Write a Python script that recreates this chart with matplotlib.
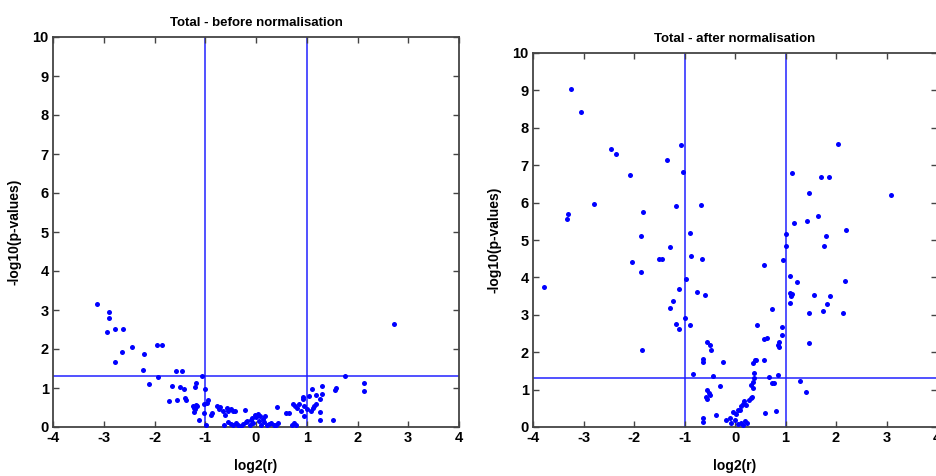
import numpy as np
import matplotlib
matplotlib.use("Agg")
import matplotlib.pyplot as plt

plt.rcParams["axes.unicode_minus"] = False

# before normalisation: log2(r), -log10(p)
before_x = [
    -3.13, -2.90, -2.90, -2.94, -2.78, -2.62, -2.77, -2.64, -2.44, -2.21, -2.22, -2.11,
    -1.96, -1.85, -1.94, -1.65, -1.72, -1.57, -1.46, -1.49, -1.41, -1.56, -1.40, -1.37,
    -1.21, -1.19, -1.07, -1.25, -1.23, -1.18, -1.22, -1.16, -1.20, -1.12, -1.03, -1.00,
    -1.03, -0.98, -0.95, -0.97, -0.89, -0.87, -0.77, -0.70, -0.72, -0.66, -0.62, -0.58,
    -0.55, -0.50, -0.45, -0.42, -0.64, -0.55, -0.50, -0.46, -0.40, -0.35, -0.30, -0.25,
    -0.22, -0.20, -0.17, -0.12, -0.10, -0.07, -0.05, -0.02, 0.00, 0.03, 0.05, 0.08,
    0.10, 0.13, 0.15, 0.18, 0.22, 0.25, 0.30, 0.35, 0.40, 0.44, 0.41, 0.60,
    0.65, 0.70, 0.74, 0.78, 0.72, 0.76, 0.80, 0.84, 0.88, 0.92, 0.93, 0.95,
    0.95, 1.00, 1.05, 1.08, 1.12, 1.15, 1.18, 1.10, 1.19, 1.27, 1.31, 1.31,
    1.27, 1.27, 1.52, 1.55, 1.57, 1.75, 2.13, 2.13, 2.71,
]
before_y = [
    3.15, 2.94, 2.79, 2.44, 2.51, 2.51, 1.66, 1.93, 2.04, 1.86, 1.46, 1.11,
    2.10, 2.10, 1.28, 1.04, 0.67, 1.44, 1.44, 1.02, 0.98, 0.70, 0.75, 0.70,
    1.03, 1.13, 1.32, 0.53, 0.39, 0.57, 0.48, 0.55, 0.45, 0.19, 0.36, 0.97,
    0.59, 0.06, 0.70, 0.62, 0.32, 0.35, 0.54, 0.52, 0.45, 0.42, 0.30, 0.48,
    0.40, 0.45, 0.42, 0.40, 0.05, 0.12, 0.08, 0.05, 0.10, 0.05, 0.03, 0.07,
    0.44, 0.12, 0.15, 0.05, 0.18, 0.22, 0.10, 0.30, 0.25, 0.33, 0.15, 0.28,
    0.05, 0.20, 0.12, 0.27, 0.05, 0.08, 0.10, 0.05, 0.05, 0.10, 0.52, 0.35,
    0.35, 0.05, 0.10, 0.05, 0.60, 0.55, 0.50, 0.60, 0.42, 0.78, 0.72, 0.55,
    0.28, 0.45, 0.80, 0.42, 0.48, 0.55, 0.58, 0.98, 0.83, 0.73, 1.04, 0.85,
    0.38, 0.19, 0.17, 0.96, 1.00, 1.31, 1.12, 0.92, 2.65,
]

# after normalisation
after_x = [
    -3.24, -3.05, -3.79, -3.30, -3.32, -2.80, -2.45, -2.36, -2.07, -2.03, -1.86, -1.82,
    -1.86, -1.84, -1.51, -1.45, -1.34, -1.28, -1.17, -1.06, -1.03, -0.89, -0.88, -0.68,
    -0.65, -0.98, -1.11, -1.22, -1.28, -1.16, -1.11, -1.00, -0.89, -0.76, -0.59, -0.56,
    -0.50, -0.48, -0.63, -0.63, -0.24, -0.84, -0.43, -0.30, -0.55, -0.52, -0.57, -0.50,
    -0.55, -0.63, -0.63, -0.37, -0.17, -0.10, -0.08, -0.03, 0.02, 0.05, 0.09, 0.12,
    0.15, 0.18, 0.22, 0.28, 0.32, 0.00, 0.05, 0.12, 0.20, 0.24, 0.16,
    2.03, 1.13, 1.70, 1.87, 3.09, 1.47, 1.65, 1.42, 1.16, 2.20, 1.00, 1.80,
    1.77, 1.00, 0.95, 0.57, 1.09, 1.22, 2.18, 1.08, 1.13, 1.11, 1.56, 1.88,
    1.09, 1.82, 0.74, 1.74, 1.46, 2.14, 0.43, 0.93, 0.93, 0.64, 0.57, 0.87,
    0.86, 0.88, 1.47, 0.36, 0.39, 0.41, 0.58, 0.37, 0.38, 0.36, 0.67, 0.86,
    0.74, 0.78, 1.28, 1.41, 0.32, 0.34, 0.60, 0.82, 0.35,
]
after_y = [
    9.05, 8.42, 3.75, 5.70, 5.55, 5.96, 7.43, 7.30, 6.75, 4.42, 5.12, 5.76,
    4.15, 2.06, 4.48, 4.48, 7.14, 4.80, 5.91, 7.54, 6.81, 5.20, 4.57, 5.93,
    4.49, 3.96, 3.70, 3.37, 3.18, 2.75, 2.62, 2.91, 2.73, 3.61, 3.52, 2.28,
    2.20, 2.06, 1.82, 1.73, 1.74, 1.42, 1.36, 1.09, 1.00, 0.90, 0.80, 0.85,
    0.75, 0.24, 0.13, 0.31, 0.20, 0.25, 0.12, 0.40, 0.35, 0.45, 0.46, 0.55,
    0.62, 0.70, 0.60, 0.72, 0.77, 0.18, 0.08, 0.10, 0.15, 0.12, 0.05,
    7.56, 6.78, 6.69, 6.69, 6.19, 6.27, 5.64, 5.52, 5.46, 5.27, 5.16, 5.12,
    4.85, 4.85, 4.46, 4.33, 4.05, 3.87, 3.91, 3.58, 3.55, 3.50, 3.53, 3.51,
    3.31, 3.29, 3.15, 3.09, 3.06, 3.06, 2.73, 2.67, 2.45, 2.38, 2.35, 2.28,
    2.20, 2.14, 2.24, 1.72, 1.78, 1.80, 1.80, 1.45, 1.32, 1.20, 1.35, 1.38,
    1.17, 1.17, 1.22, 0.93, 1.12, 0.79, 0.37, 0.42, 1.05,
]

titles = ["Total - before normalisation", "Total - after normalisation"]
fc_cut = [-1, 1]
p_cut = -np.log10(0.05)

fig = plt.figure(figsize=(9.36, 4.76), dpi=100)
ax1 = fig.add_axes([53 / 936, 49 / 476, 406 / 936, 390 / 476])
ax2 = fig.add_axes([533 / 936, 49 / 476, 404 / 936, 374 / 476])

narrow = ["Liberation Sans Narrow", "Liberation Sans", "DejaVu Sans"]

for ax, xs, ys, title in zip([ax1, ax2], [before_x, after_x], [before_y, after_y], titles):
    for c in fc_cut:
        ax.axvline(c, color="#2222ff", lw=1.1, zorder=1)
    ax.axhline(p_cut, color="#2222ff", lw=1.1, zorder=1)
    ax.plot(xs, ys, "o", color="#0000ff", markersize=3.6, markeredgewidth=0, zorder=3)
    ax.set_xlim(-4, 4)
    ax.set_ylim(0, 10)
    ax.set_xticks(range(-4, 5))
    ax.set_yticks(range(0, 11))
    ax.tick_params(direction="in", top=True, right=True, length=4, width=1,
                   color="#444444", pad=3, labelsize=10.5)
    for lab in ax.get_xticklabels() + ax.get_yticklabels():
        lab.set_fontfamily(["Liberation Sans", "DejaVu Sans"])
        lab.set_fontweight("bold")
    for s in ax.spines.values():
        s.set_color("#444444")
        s.set_linewidth(1.3)
    ax.set_title(title, family=narrow, fontweight="bold", fontsize=9.5, pad=8)
    ax.set_xlabel("log2(r)", family=narrow, fontweight="bold", fontsize=10, labelpad=10)
    ax.set_ylabel("-log10(p-values)", family=narrow, fontweight="bold", fontsize=10, labelpad=8)

fig.savefig("out.png", dpi=100)
